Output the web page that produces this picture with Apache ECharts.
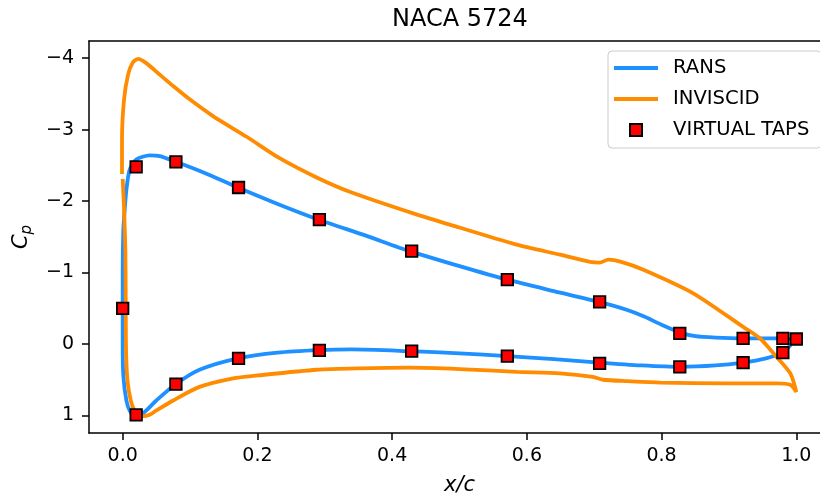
<!DOCTYPE html>
<html>
<head>
<meta charset="utf-8">
<script src="https://cdn.jsdelivr.net/npm/echarts@6/dist/echarts.min.js"></script>
<style>
  html, body { margin: 0; padding: 0; background: #fff; }
  #chart { width: 820px; height: 494px; }
</style>
</head>
<body>
<div id="chart"></div>
<script>
// tick positions
const xTicks = [0, 0.2, 0.4, 0.6, 0.8, 1.0];
const yTicks = [-4, -3, -2, -1, 0, 1];

// RANS, upper side: from stagnation point round the nose to trailing edge
const ransUpperX  = [0.018, 0.0104, 0.0055, 0.001, 0.0, 0.0, 0.001, 0.003, 0.0055, 0.0104, 0.02, 0.04, 0.055, 0.079, 0.12, 0.171, 0.23, 0.291, 0.36, 0.426, 0.5, 0.571, 0.64, 0.707, 0.748, 0.775, 0.8, 0.828, 0.85, 0.88, 0.92, 0.979, 0.997];
const ransUpperCp = [1.0, 0.93, 0.79, 0.45, 0.0, -1.0, -1.6, -1.88, -2.16, -2.44, -2.58, -2.64, -2.63, -2.55, -2.4, -2.19, -1.96, -1.74, -1.52, -1.30, -1.09, -0.90, -0.74, -0.59, -0.48, -0.38, -0.27, -0.16, -0.11, -0.09, -0.08, -0.08, -0.06];
// RANS, lower side: stagnation point to trailing edge
const ransLowerX  = [0.018, 0.03, 0.05, 0.079, 0.114, 0.171, 0.23, 0.291, 0.34, 0.426, 0.5, 0.571, 0.64, 0.707, 0.77, 0.828, 0.88, 0.92, 0.955, 0.979, 0.99, 0.997];
const ransLowerCp = [1.0, 0.97, 0.79, 0.56, 0.36, 0.2, 0.12, 0.085, 0.075, 0.1, 0.13, 0.17, 0.21, 0.26, 0.3, 0.32, 0.3, 0.26, 0.2, 0.12, 0.03, -0.06];

// inviscid, upper side (starts just above the nose gap)
const invUpperX  = [-0.001, -0.001, 0.002, 0.008, 0.015, 0.023, 0.035, 0.055, 0.075, 0.1, 0.134, 0.184, 0.233, 0.288, 0.337, 0.437, 0.5, 0.585, 0.649, 0.694, 0.708, 0.721, 0.74, 0.773, 0.847, 0.921, 0.946, 0.966, 0.991, 1.0];
const invUpperCp = [-2.38, -2.86, -3.42, -3.77, -3.94, -3.99, -3.93, -3.77, -3.61, -3.42, -3.19, -2.90, -2.60, -2.33, -2.13, -1.81, -1.63, -1.39, -1.25, -1.15, -1.14, -1.18, -1.15, -1.04, -0.71, -0.24, -0.08, 0.13, 0.41, 0.67];
// inviscid, lower side: stagnation point to trailing edge
const invLowerX  = [0.03, 0.04, 0.05, 0.075, 0.114, 0.164, 0.2, 0.288, 0.35, 0.426, 0.5, 0.585, 0.649, 0.698, 0.713, 0.75, 0.798, 0.897, 0.971, 0.991, 1.0];
const invLowerCp = [1.01, 0.99, 0.93, 0.79, 0.60, 0.48, 0.44, 0.36, 0.34, 0.33, 0.35, 0.39, 0.41, 0.46, 0.50, 0.52, 0.54, 0.55, 0.55, 0.57, 0.67];
// inviscid, nose: stagnation point up to the gap
const invNoseX  = [0.03, 0.019, 0.012, 0.007, 0.005, 0.0045, 0.004, 0.002, 0.0];
const invNoseCp = [1.01, 0.95, 0.79, 0.5, 0.08, -0.6, -1.3, -1.9, -2.31];

// virtual pressure taps
const tapX  = [0.0, 0.020, 0.079, 0.172, 0.292, 0.429, 0.571, 0.708, 0.827, 0.921, 0.980, 1.0, 0.020, 0.079, 0.172, 0.292, 0.429, 0.571, 0.708, 0.827, 0.921, 0.980];
const tapCp = [-0.50, -2.48, -2.55, -2.19, -1.74, -1.30, -0.90, -0.59, -0.15, -0.08, -0.08, -0.07, 0.99, 0.56, 0.20, 0.09, 0.10, 0.17, 0.27, 0.32, 0.26, 0.12];

function zip(xs, ys) {
    return xs.map((x, i) => [x, ys[i]]);
}

// closed loops: trailing edge -> nose -> trailing edge
const ransPath = zip(ransUpperX, ransUpperCp).reverse()
    .concat(zip(ransLowerX, ransLowerCp).slice(1));
const invPath = zip(invUpperX, invUpperCp)
    .concat(zip(invLowerX, invLowerCp).reverse().slice(1))
    .concat(zip(invNoseX, invNoseCp).slice(1));

const font = 'DejaVu Sans';
const minus = v => (v < 0 ? '\u2212' + (-v) : String(v));
const spine = {color: '#000', width: 1.5};

const chart = echarts.init(document.getElementById('chart'), null, {renderer: 'canvas'});

let option = {
    animation: false,
    backgroundColor: '#fff',
    textStyle: {fontFamily: font, color: '#000'},
    title: {
        text: 'NACA 5724',
        left: 392,
        top: 8,
        padding: 0,
        textStyle: {fontFamily: font, fontSize: 24, fontWeight: 'normal', color: '#000'}
    },
    grid: {
        left: 89, right: -10, top: 41, bottom: 61,
        outerBoundsMode: 'none'
    },
    legend: {
        left: 608,
        top: 51,
        orient: 'vertical',
        padding: [7, 12, 8, 6],
        itemWidth: 44,
        itemHeight: 12,
        itemGap: 11,
        backgroundColor: 'rgba(255,255,255,0.8)',
        borderColor: '#cccccc',
        borderWidth: 1,
        borderRadius: 4,
        textStyle: {fontFamily: font, fontSize: 19.6, color: '#000', lineHeight: 20, padding: [0, 0, 0, 10]},
        data: [
            {name: 'RANS', icon: 'path://M0,0H44V3.8H0Z'},
            {name: 'INVISCID', icon: 'path://M0,0H44V3.8H0Z'},
            {name: 'VIRTUAL TAPS', icon: 'path://M0,0H10V10H0Z'}
        ]
    },
    xAxis: [
        {
            type: 'value',
            min: -0.05,
            max: 1.05,
            name: 'x/c',
            nameLocation: 'middle',
            nameGap: 42,
            nameTextStyle: {fontFamily: font, fontSize: 21, fontStyle: 'italic', color: '#000'},
            axisLine: {onZero: false, lineStyle: spine},
            axisTick: {show: true, inside: false, length: 7, lineStyle: spine, customValues: xTicks},
            axisLabel: {fontFamily: font, fontSize: 19, color: '#000', margin: 14, customValues: xTicks, formatter: v => v.toFixed(1)},
            splitLine: {show: false}
        },
        {
            // top spine only
            type: 'value',
            position: 'top',
            min: -0.05,
            max: 1.05,
            axisLine: {onZero: false, lineStyle: spine},
            axisTick: {show: false},
            axisLabel: {show: false},
            splitLine: {show: false}
        }
    ],
    yAxis: {
        type: 'value',
        inverse: true,
        min: -4.24,
        max: 1.245,
        name: '{c|C}{p|p}',
        nameLocation: 'middle',
        nameRotate: 90,
        nameGap: 50,
        nameTextStyle: {
            rich: {
                c: {fontFamily: font, fontSize: 21, fontStyle: 'italic', color: '#000', lineHeight: 28},
                p: {fontFamily: font, fontSize: 15, fontStyle: 'italic', color: '#000', lineHeight: 15, verticalAlign: 'bottom'}
            }
        },
        axisLine: {onZero: false, lineStyle: spine},
        axisTick: {show: true, inside: false, length: 7, lineStyle: spine, customValues: yTicks},
        axisLabel: {fontFamily: font, fontSize: 19, color: '#000', margin: 15, customValues: yTicks, formatter: minus},
        splitLine: {show: false}
    },
    series: [
        {
            name: 'RANS',
            type: 'line',
            data: ransPath,
            smooth: 0.25,
            symbol: 'none',
            color: '#1e90ff',
            lineStyle: {color: '#1e90ff', width: 3.8},
            z: 2
        },
        {
            name: 'INVISCID',
            type: 'line',
            data: invPath,
            smooth: 0.25,
            symbol: 'none',
            color: '#ff8c00',
            lineStyle: {color: '#ff8c00', width: 3.8},
            z: 3
        },
        {
            name: 'VIRTUAL TAPS',
            type: 'scatter',
            data: zip(tapX, tapCp),
            symbol: 'rect',
            symbolSize: 11.5,
            itemStyle: {color: '#ff0000', borderColor: '#000', borderWidth: 1.8, opacity: 1},
            z: 4
        }
    ]
};

chart.setOption(option);
</script>
</body>
</html>
